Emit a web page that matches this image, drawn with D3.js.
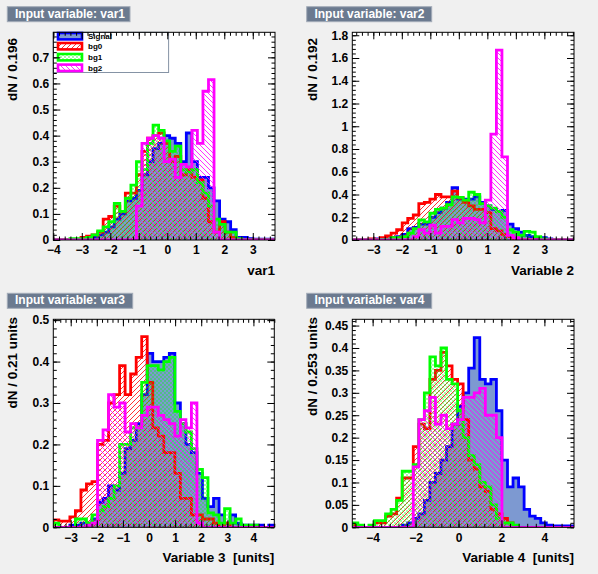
<!DOCTYPE html>
<html><head><meta charset="utf-8">
<script src="https://cdn.jsdelivr.net/npm/d3@7"></script>
<style>
html,body{margin:0;padding:0;background:#f0f0f0;}
svg{display:block;}
text{font-family:"Liberation Sans",Arial,Helvetica,sans-serif;font-weight:bold;}
</style></head><body>
<svg id="c" width="598" height="574"></svg>
<script>
// ---------------- data ----------------
const variableNames = ["var1","var2","var3","var4"];
const panelTitles = variableNames.map(v => "Input variable: " + v);
const xTitles = ["var1","Variable 2","Variable 3  [units]","Variable 4  [units]"];
const yTitles = ["dN / 0.196","dN / 0.192","dN / 0.21 units","dN / 0.253 units"];
const xDomains = [[-4.0,3.78],[-3.737,4.04],[-3.667,4.80],[-4.947,5.379]];
const yMaxima = [0.796,1.826,0.502,0.464];
const xMajorSteps = [1,1,1,2];
const xMinorSteps = [0.2,0.2,0.2,0.4];
const yMajorSteps = [0.1,0.2,0.1,0.05];
const yMinorSteps = [0.02,0.04,0.02,0.01];
const seriesNames = ["Signal","bg0","bg1","bg2"];

const signalVar1 = [0,0,0,0,0,0.003, 0.005,0.01,0.02,0.03, 0.05,0.08,0.10,0.15,0.16, 0.19,0.25,0.30,0.35,0.37, 0.40,0.39,0.37,0.30,0.41, 0.30,0.24,0.24,0.20,0.15, 0.08,0.07,0.04,0.01,0.01, 0.005,0.003,0.003,0.003,0.003];
const bg0Var1 = [0,0,0,0,0, 0.01,0.015,0.02,0.03,0.08, 0.09,0.13,0.11,0.18,0.18, 0.25,0.34,0.39,0.40,0.41, 0.37,0.30,0.32,0.25,0.27, 0.24,0.23,0.16,0.07,0.03, 0.07,0.03,0.01,0,0, 0,0,0,0,0];
const bg1Var1 = [0,0,0,0.005,0.005, 0.005,0.01,0.02,0.035,0.05, 0.07,0.14,0.11,0.16,0.21, 0.30,0.27,0.37,0.44,0.42, 0.38,0.34,0.36,0.27,0.26, 0.27,0.22,0.18,0.13,0.08, 0.06,0.03,0.03,0.005,0, 0,0,0,0,0];
const bg2Var1 = [0,0,0,0,0, 0,0,0,0,0, 0,0,0,0,0, 0.13,0.37,0.39,0.40,0.39, 0.30,0.31,0.24,0.29,0.28, 0.42,0.37,0.57,0.615,0.03, 0,0,0,0,0, 0,0,0,0,0];

const signalVar2 = [0,0,0,0.005,0.01, 0.005,0.01,0.02,0.03,0.05, 0.10,0.11,0.14,0.14,0.20, 0.24,0.28,0.33,0.46,0.36, 0.36,0.36,0.38,0.33,0.30, 0.27,0.25,0.26,0.14,0.10, 0.07,0.04,0.03,0.02,0.02, 0.01,0,0,0,0];
const bg0Var2 = [0,0,0,0.01,0.005, 0.02,0.035,0.06,0.09,0.15, 0.19,0.22,0.32,0.33,0.36, 0.40,0.38,0.38,0.43,0.37, 0.33,0.30,0.27,0.27,0.24, 0.10,0.08,0.05,0.03,0.01, 0,0,0,0,0, 0,0,0,0,0];
const bg1Var2 = [0,0,0,0,0, 0.005,0.005,0.02,0.02,0.03, 0.06,0.10,0.176,0.16,0.235, 0.27,0.28,0.31,0.38,0.375, 0.35,0.42,0.40,0.32,0.30, 0.28,0.25,0.20,0.09,0.07, 0.04,0.075,0.07,0.03,0.01, 0,0,0,0,0];
const bg2Var2 = [0,0,0,0,0, 0,0,0,0,0, 0,0.03,0.09,0.06,0.13, 0.06,0.12,0.12,0.18,0.15, 0.19,0.19,0.18,0.15,0.35, 0.93,1.67,0.73,0.04,0.02, 0,0,0,0,0, 0,0,0,0,0];

const signalVar3 = [0,0,0,0.005,0.005, 0.01,0.01,0.02,0.06,0.07, 0.10,0.09,0.13,0.19,0.21, 0.25,0.32,0.42,0.40,0.40, 0.41,0.42,0.30,0.25,0.20, 0.18,0.13,0.07,0.05,0.07, 0.03,0.01,0.03,0.01,0.005, 0.005,0.005,0.005,0,0.005];
const bg0Var3 = [0.018,0.015,0.015,0.025,0.04, 0.09,0.105,0.11,0.20,0.21, 0.30,0.32,0.39,0.32,0.37, 0.41,0.46,0.35,0.24,0.22, 0.18,0.18,0.13,0.07,0.07, 0.03,0.03,0.02,0.02,0.01, 0,0.01,0,0,0, 0,0,0,0,0];
const bg1Var3 = [0.01,0,0,0,0.02, 0.02,0.01,0.03,0.04,0.05, 0.07,0.10,0.20,0.20,0.24, 0.24,0.35,0.39,0.39,0.38, 0.40,0.41,0.28,0.25,0.23, 0.19,0.14,0.12,0.035,0.03, 0.01,0.045,0.01,0.02,0.005, 0.005,0.005,0,0,0];
const bg2Var3 = [0,0,0,0,0, 0,0.005,0.01,0.21,0.235, 0.32,0.29,0.30,0.23,0.25, 0.24,0.27,0.29,0.29,0.27, 0.26,0.25,0.22,0.26,0.24, 0.30,0.01,0,0,0, 0,0,0,0,0, 0,0,0,0,0];

const signalVar4 = [0,0,0,0,0, 0,0,0,0,0.005, 0.01,0.02,0.03,0.06,0.10, 0.12,0.15,0.18,0.23,0.27, 0.30,0.355,0.423,0.33,0.32, 0.33,0.26,0.15,0.09,0.11, 0.09,0.04,0.025,0.02,0.01, 0.005,0.003,0.003,0.003,0.003];
const bg0Var4 = [0.005,0,0,0,0.01, 0.01,0.025,0.03,0.065,0.11, 0.11,0.18,0.23,0.22,0.33, 0.35,0.39,0.36,0.33,0.32, 0.24,0.15,0.13,0.09,0.08, 0.04,0.03,0.02,0.01,0, 0,0,0,0,0, 0,0,0,0,0];
const bg1Var4 = [0.01,0.005,0,0.005,0.015, 0.015,0.03,0.04,0.06,0.125, 0.125,0.14,0.24,0.30,0.38, 0.36,0.40,0.33,0.32,0.26, 0.20,0.16,0.14,0.10,0.09, 0.05,0.02,0.01,0.01,0.005, 0,0,0,0,0, 0,0,0,0,0];
const bg2Var4 = [0,0,0,0,0, 0,0,0,0,0, 0,0.135,0.24,0.26,0.29, 0.23,0.25,0.22,0.23,0.24, 0.29,0.29,0.30,0.31,0.25, 0.25,0.20,0,0,0, 0,0,0,0,0, 0,0,0,0,0];

const histograms = [
  [signalVar1, bg0Var1, bg1Var1, bg2Var1],
  [signalVar2, bg0Var2, bg1Var2, bg2Var2],
  [signalVar3, bg0Var3, bg1Var3, bg2Var3],
  [signalVar4, bg0Var4, bg1Var4, bg2Var4]
];

// ---------------- layout & style ----------------
const layout = [
  {frame:[53.3,32.3,275,240],   box:[7.3,6.7,122.7,15],  yTitle:[16.7,38],  xTitleY:275},
  {frame:[352.3,32.3,574,240],  box:[306.7,6.7,125,15],  yTitle:[316.7,38], xTitleY:275},
  {frame:[53.3,319.3,274.3,527.3], box:[7.3,293.3,125.4,15], yTitle:[16.7,317], xTitleY:562},
  {frame:[352.3,319.3,574,527.3],  box:[306.7,293.3,125,15], yTitle:[316.7,317], xTitleY:562}
];
const lineColors = ["#0000ff","#ff0000","#00ff00","#ff00ff"];
const fills = ["#7d99d1","url(#hatchRed)","url(#dotsGreen)","url(#hatchPink)"];

const svg = d3.select("#c");
svg.append("rect").attr("width",598).attr("height",574).attr("fill","#f0f0f0");
const defs = svg.append("defs");
const pr = defs.append("pattern").attr("id","hatchRed").attr("patternUnits","userSpaceOnUse").attr("width",5).attr("height",5);
pr.append("path").attr("d","M-1,1 L1,-1 M0,5 L5,0 M4,6 L6,4").attr("stroke","#ff0000").attr("stroke-width",0.8);
const pp = defs.append("pattern").attr("id","hatchPink").attr("patternUnits","userSpaceOnUse").attr("width",5).attr("height",5);
pp.append("path").attr("d","M-1,4 L1,6 M0,0 L5,5 M4,-1 L6,1").attr("stroke","#ff00ff").attr("stroke-width",0.8);
const pg = defs.append("pattern").attr("id","dotsGreen").attr("patternUnits","userSpaceOnUse").attr("width",4).attr("height",4);
pg.append("circle").attr("cx",1).attr("cy",1).attr("r",0.65).attr("fill","#00ff00");
pg.append("circle").attr("cx",3).attr("cy",3).attr("r",0.65).attr("fill","#00ff00");

const fmt = d3.format("~g");
function stepsIn(lo, hi, step){
  const a = Math.ceil(lo/step - 1e-9), b = Math.floor(hi/step + 1e-9);
  return d3.range(a, b+1).map(k => +(k*step).toFixed(6));
}

layout.forEach((L, p) => {
  const [fx0, fy0, fx1, fy1] = L.frame;
  const dom = xDomains[p];
  const x = d3.scaleLinear().domain(dom).range([fx0, fx1]);
  const y = d3.scaleLinear().domain([0, yMaxima[p]]).range([fy1, fy0]);
  const g = svg.append("g");

  // title box
  const [bx, by, bw, bh] = L.box;
  g.append("rect").attr("x",bx).attr("y",by).attr("width",bw).attr("height",bh)
    .attr("fill","#6b7a8f").attr("stroke","#a3acb8").attr("stroke-width",1);
  g.append("text").attr("x",bx+7.7).attr("y",by+10.9).attr("fill","#ffffff")
    .attr("font-size",12).text(panelTitles[p]);

  // frame background
  g.append("rect").attr("x",fx0).attr("y",fy0).attr("width",fx1-fx0).attr("height",fy1-fy0).attr("fill","#ffffff");

  const clipId = "clip"+p;
  defs.append("clipPath").attr("id",clipId).append("rect")
    .attr("x",fx0).attr("y",fy0).attr("width",fx1-fx0).attr("height",fy1-fy0);
  const hg = g.append("g").attr("clip-path",`url(#${clipId})`);

  histograms[p].forEach((vals, s) => {
    const n = vals.length;
    const bwid = (dom[1]-dom[0])/n;
    const outline = d3.path();
    outline.moveTo(x(dom[0]), y(0));
    vals.forEach((v, i) => {
      outline.lineTo(x(dom[0]+i*bwid), y(v));
      outline.lineTo(x(dom[0]+(i+1)*bwid), y(v));
    });
    outline.lineTo(x(dom[1]), y(0));
    const d = outline.toString();
    hg.append("path").attr("d", d + "Z").attr("fill", fills[s]).attr("stroke","none");
    hg.append("path").attr("d", d).attr("fill","none")
      .attr("stroke", lineColors[s]).attr("stroke-width",2.8).attr("stroke-linejoin","miter");
  });

  // legend (first panel only)
  if (p === 0) {
    const lg = g.append("g");
    lg.append("rect").attr("x",fx0).attr("y",fy0).attr("width",115.3).attr("height",40.2)
      .attr("fill","#ffffff").attr("stroke","#8593a5").attr("stroke-width",1);
    const centers = [36.2, 46.2, 57.2, 67.8];
    seriesNames.forEach((name, s) => {
      lg.append("rect").attr("x",58).attr("y",centers[s]-3.2).attr("width",24).attr("height",6.4)
        .attr("fill",fills[s]).attr("stroke",lineColors[s]).attr("stroke-width",2.6);
      lg.append("text").attr("x",88).attr("y",centers[s]+2.8).attr("font-size",8).attr("fill","#000").text(name);
    });
  }

  // axes
  const xMaj = stepsIn(dom[0], dom[1]-0.05, xMajorSteps[p]);
  const xMin = stepsIn(dom[0], dom[1], xMinorSteps[p]);
  const yMaj = stepsIn(0, yMaxima[p], yMajorSteps[p]);
  const yMin = stepsIn(0, yMaxima[p], yMinorSteps[p]);
  const ax = g.append("g").attr("font-size",12);

  function put(axis, tx, ty){
    const a = ax.append("g").attr("transform",`translate(${tx},${ty})`).call(axis);
    a.select(".domain").remove();
    a.selectAll("text").attr("font-family",'"Liberation Sans",Arial,Helvetica,sans-serif').attr("font-weight","bold").attr("font-size",12).attr("fill","#000");
    return a;
  }
  put(d3.axisBottom(x).tickValues(xMin).tickSizeInner(-3.5).tickSizeOuter(0).tickFormat(""), 0, fy1);
  put(d3.axisBottom(x).tickValues(xMaj).tickSizeInner(-7).tickSizeOuter(0).tickPadding(5.8).tickFormat(fmt), 0, fy1);
  put(d3.axisTop(x).tickValues(xMin).tickSizeInner(-3.5).tickSizeOuter(0).tickFormat(""), 0, fy0);
  put(d3.axisTop(x).tickValues(xMaj).tickSizeInner(-7).tickSizeOuter(0).tickFormat(""), 0, fy0);
  put(d3.axisLeft(y).tickValues(yMin).tickSizeInner(-3.5).tickSizeOuter(0).tickFormat(""), fx0, 0);
  put(d3.axisLeft(y).tickValues(yMaj).tickSizeInner(-7).tickSizeOuter(0).tickPadding(4).tickFormat(fmt), fx0, 0);
  put(d3.axisRight(y).tickValues(yMin).tickSizeInner(-3.5).tickSizeOuter(0).tickFormat(""), fx1, 0);
  put(d3.axisRight(y).tickValues(yMaj).tickSizeInner(-7).tickSizeOuter(0).tickFormat(""), fx1, 0);

  // frame border
  g.append("rect").attr("x",fx0).attr("y",fy0).attr("width",fx1-fx0).attr("height",fy1-fy0)
    .attr("fill","none").attr("stroke","#000").attr("stroke-width",1);

  // axis titles
  g.append("text").attr("x",fx1).attr("y",L.xTitleY).attr("text-anchor","end")
    .attr("font-size",13.5).attr("fill","#000").style("white-space","pre").text(xTitles[p]);
  g.append("text").attr("transform",`translate(${L.yTitle[0]},${L.yTitle[1]}) rotate(-90)`)
    .attr("text-anchor","end").attr("font-size",13.5).attr("fill","#000").text(yTitles[p]);
});
</script>
</body></html>
